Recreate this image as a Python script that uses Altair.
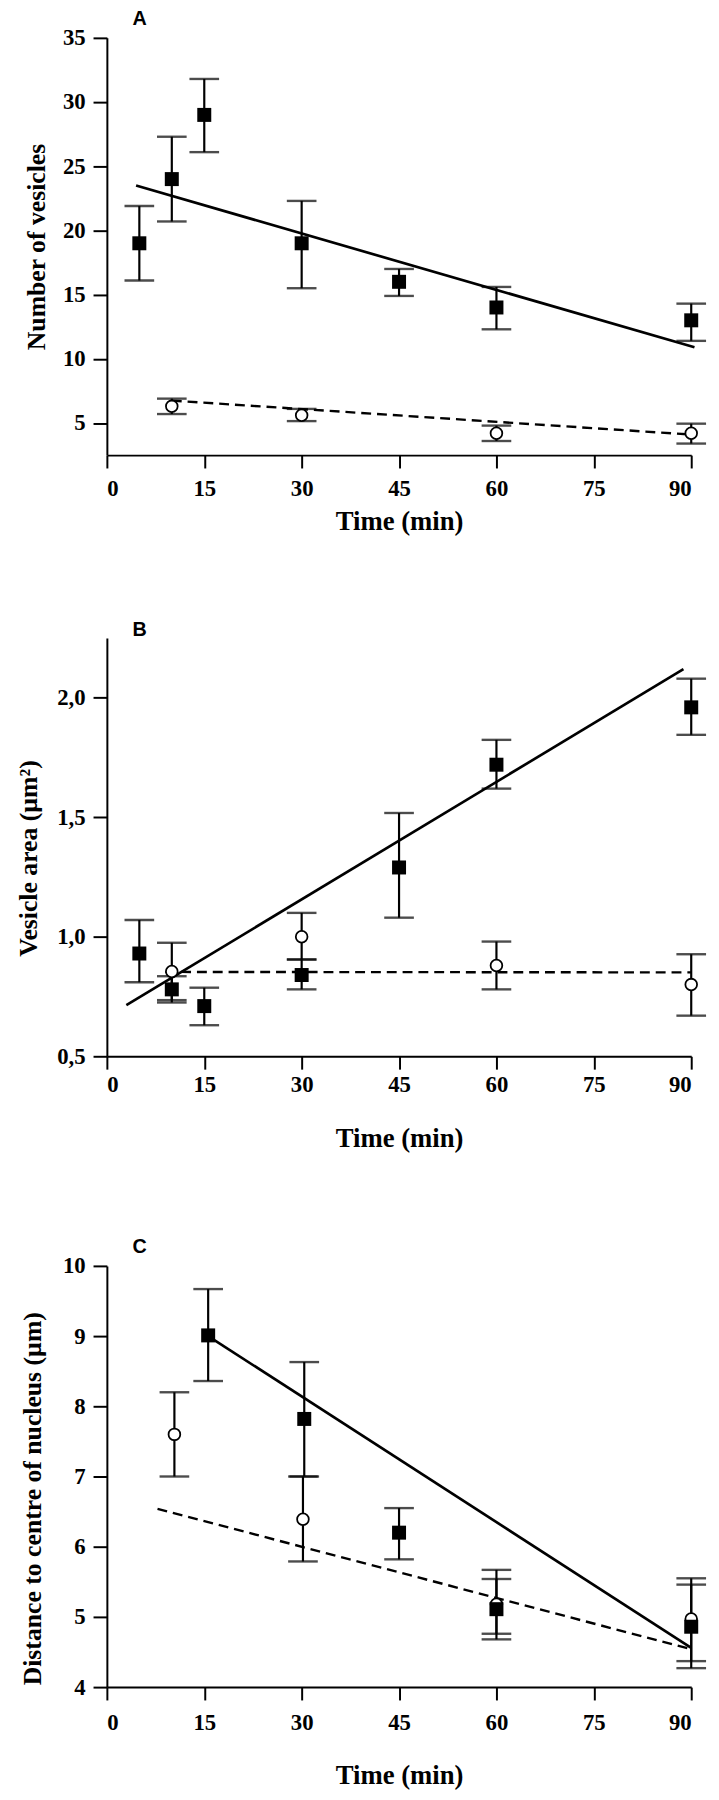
import altair as alt
import pandas as pd

TIME_TICKS = [0, 15, 30, 45, 60, 75, 90]

# ---------- Panel A: number of vesicles ----------
a_sq_t = [5, 10, 15, 30, 45, 60, 90]
a_sq_v = [19.0, 24.0, 29.0, 19.0, 16.0, 14.0, 13.0]
a_sq_lo = [16.1, 20.7, 26.1, 15.5, 14.9, 12.3, 11.4]
a_sq_hi = [21.9, 27.3, 31.8, 22.3, 17.0, 15.6, 14.3]
a_ci_t = [10, 30, 60, 90]
a_ci_v = [6.3, 5.6, 4.2, 4.2]
a_ci_lo = [5.7, 5.15, 3.6, 3.4]
a_ci_hi = [6.9, 6.1, 4.8, 4.95]
a_fit_sq_t = [4.5, 90.5]
a_fit_sq_v = [23.5, 10.9]
a_fit_ci_t = [10, 90]
a_fit_ci_v = [6.75, 4.1]

# ---------- Panel B: vesicle area ----------
b_sq_t = [5, 10, 15, 30, 45, 60, 90]
b_sq_v = [0.93, 0.78, 0.71, 0.84, 1.29, 1.72, 1.96]
b_sq_lo = [0.81, 0.725, 0.63, 0.78, 1.08, 1.62, 1.845]
b_sq_hi = [1.07, 0.835, 0.787, 0.905, 1.518, 1.824, 2.08]
b_ci_t = [10, 30, 60, 90]
b_ci_v = [0.855, 1.0, 0.88, 0.80]
b_ci_lo = [0.735, 0.905, 0.78, 0.67]
b_ci_hi = [0.975, 1.10, 0.98, 0.927]
b_fit_sq_t = [3, 88.8]
b_fit_sq_v = [0.714, 2.12]
b_fit_ci_t = [9, 90]
b_fit_ci_v = [0.853, 0.851]

# ---------- Panel C: distance to centre of nucleus ----------
c_sq_t = [15.6, 30.4, 45, 60, 90]
c_sq_v = [9.01, 7.82, 6.2, 5.11, 4.86]
c_sq_lo = [8.36, 7.0, 5.82, 4.68, 4.27]
c_sq_hi = [9.67, 8.63, 6.55, 5.67, 5.46]
c_ci_t = [10.4, 30.2, 60, 90]
c_ci_v = [7.6, 6.39, 5.18, 4.97]
c_ci_lo = [7.0, 5.79, 4.76, 4.37]
c_ci_hi = [8.2, 7.0, 5.54, 5.55]
c_fit_sq_t = [15.6, 90]
c_fit_sq_v = [9.0, 4.56]
c_fit_ci_t = [7.8, 90]
c_fit_ci_v = [6.54, 4.54]

W = 591


def panel(label, sq, ci, fit_sq, fit_ci, ydomain, yvalues, ytitle, height,
          ytitle_x, ytitle_shift, xlabel_pad, xtitle_y, comma=False):
    sq_df = pd.DataFrame({"t": sq[0], "v": sq[1], "lo": sq[2], "hi": sq[3]})
    ci_df = pd.DataFrame({"t": ci[0], "v": ci[1], "lo": ci[2], "hi": ci[3]})
    fsq_df = pd.DataFrame({"t": fit_sq[0], "v": fit_sq[1]})
    fci_df = pd.DataFrame({"t": fit_ci[0], "v": fit_ci[1]})

    xaxis = alt.Axis(values=TIME_TICKS, title="Time (min)", tickSize=13,
                     labelPadding=xlabel_pad, labelBaseline="middle",
                     titleY=xtitle_y, titleBaseline="middle", titleFontSize=27)
    yargs = dict(values=yvalues, title=ytitle, tickSize=14, labelPadding=8,
                 titleX=ytitle_x, titleY=height / 2 + ytitle_shift,
                 titleBaseline="middle", titleAlign="center", titleAngle=270,
                 titleFontSize=26)
    if comma:
        yargs["labelExpr"] = "replace(format(datum.value, '.1f'), '.', ',')"
    yaxis = alt.Axis(**yargs)
    xs = alt.Scale(domain=[0, 90], nice=False, zero=False)
    ys = alt.Scale(domain=ydomain, nice=False, zero=False)

    def X():
        return alt.X("t:Q", scale=xs, axis=xaxis)

    def Y(f):
        return alt.Y(f"{f}:Q", scale=ys, axis=yaxis)

    layers = []
    for df in (ci_df, sq_df):
        layers.append(alt.Chart(df).mark_rule(color="black", strokeWidth=2.2).encode(
            x=X(), y=Y("lo"), y2="hi"))
        for f in ("lo", "hi"):
            layers.append(alt.Chart(df).mark_tick(
                color="black", orient="horizontal", size=30, thickness=2.4).encode(
                x=X(), y=Y(f)))
    layers.append(alt.Chart(fsq_df).mark_line(color="black", strokeWidth=2.7).encode(
        x=X(), y=Y("v")))
    layers.append(alt.Chart(fci_df).mark_line(
        color="black", strokeWidth=2.4, strokeDash=[10, 6]).encode(x=X(), y=Y("v")))
    layers.append(alt.Chart(ci_df).mark_point(
        shape="circle", filled=True, fill="white", stroke="black", strokeWidth=1.8,
        size=140, opacity=1).encode(x=X(), y=Y("v")))
    layers.append(alt.Chart(sq_df).mark_point(
        shape="square", filled=True, color="black", size=200, opacity=1).encode(
        x=X(), y=Y("v")))

    return alt.layer(*layers).properties(
        width=W, height=height,
        title=alt.TitleParams(label, anchor="start", frame="group", dx=26, offset=-2,
                              font="Liberation Sans", fontWeight="bold", fontSize=20,
                              color="black"))


pa = panel("A", (a_sq_t, a_sq_v, a_sq_lo, a_sq_hi), (a_ci_t, a_ci_v, a_ci_lo, a_ci_hi),
           (a_fit_sq_t, a_fit_sq_v), (a_fit_ci_t, a_fit_ci_v), [2.5, 35],
           [5, 10, 15, 20, 25, 30, 35], "Number of vesicles", 422, -71, 0, 21, 67)
pb = panel("B", (b_sq_t, b_sq_v, b_sq_lo, b_sq_hi), (b_ci_t, b_ci_v, b_ci_lo, b_ci_hi),
           (b_fit_sq_t, b_fit_sq_v), (b_fit_ci_t, b_fit_ci_v), [0.5, 2.25],
           [0.5, 1.0, 1.5, 2.0], "Vesicle area (µm²)", 423, -79, 11, 16, 83, comma=True)
pc = panel("C", (c_sq_t, c_sq_v, c_sq_lo, c_sq_hi), (c_ci_t, c_ci_v, c_ci_lo, c_ci_hi),
           (c_fit_sq_t, c_fit_sq_v), (c_fit_ci_t, c_fit_ci_v), [4, 10],
           [4, 5, 6, 7, 8, 9, 10], "Distance to centre of nucleus (µm)", 426, -75, 22,
           23, 89)

chart = alt.vconcat(pa, pb, pc, spacing=87).properties(
    padding={"left": 8, "top": -9, "right": 5, "bottom": 5}
).configure_view(stroke=None).configure_axis(
    domainColor="black", domainWidth=2, tickColor="black", tickWidth=2, grid=False,
    labelFont="Liberation Serif", labelFontWeight="bold", labelFontSize=23,
    labelColor="black", titleFont="Liberation Serif", titleFontWeight="bold",
    titleColor="black"
)

chart.save("out.html", embed_options={"renderer": "svg", "actions": False})
